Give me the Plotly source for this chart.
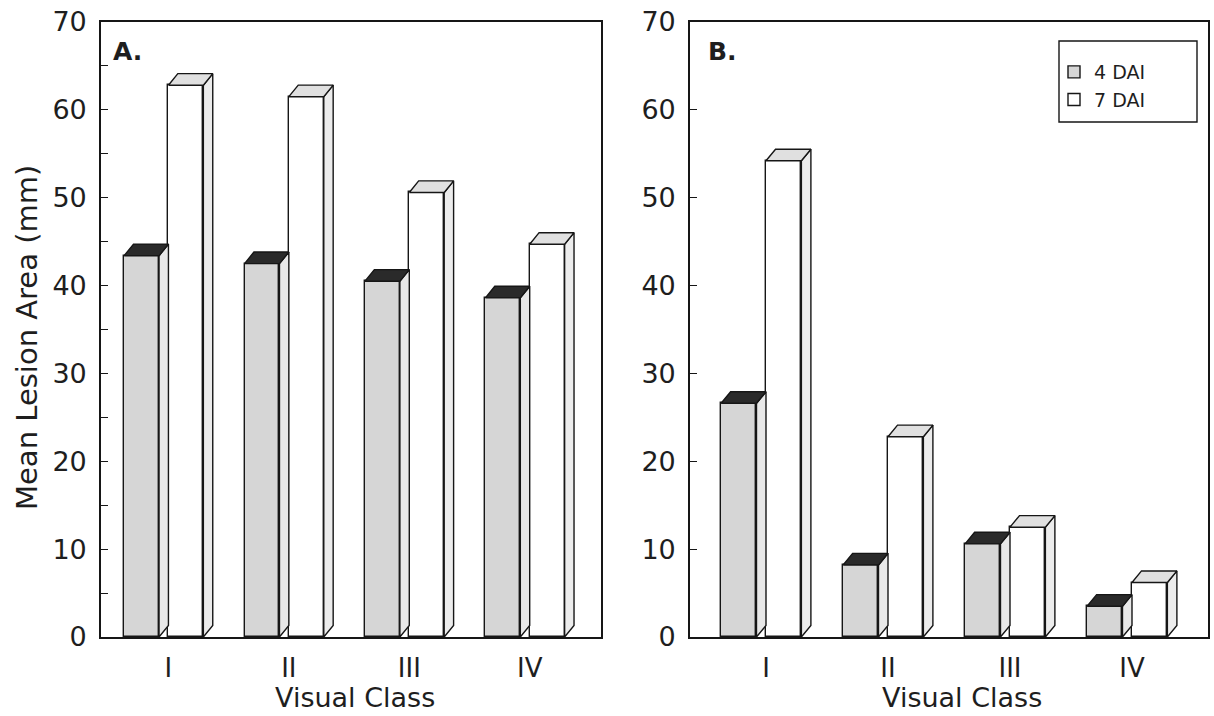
import plotly.graph_objects as go

# ---------------- data ----------------
categories = ["I", "II", "III", "IV"]
a_4dai = [43.4, 42.5, 40.5, 38.6]
a_7dai = [62.8, 61.5, 50.6, 44.7]
b_4dai = [26.6, 8.2, 10.6, 3.5]
b_7dai = [54.2, 22.8, 12.5, 6.2]
series_names = ["4 DAI", "7 DAI"]
y_ticks = [0, 10, 20, 30, 40, 50, 60, 70]

# ---------------- style ----------------
W = 0.29      # front-face width (category units)
DX = 0.078    # depth offset in x (category units)
DY = 1.32     # depth offset in y (data units)
EDGE = "#161616"
FRONT = ["#d6d6d6", "#ffffff"]
SIDE = ["#e8e8e8", "#ececec"]
TOP = ["#2a2a2a", "#e0e0e0"]
FONT = "DejaVu Sans, Liberation Sans, Arial, sans-serif"
TXT = "#1e1e1e"

fig = go.Figure()


def add_panel(v4, v7, xa, ya, showlegend):
    pos = list(range(len(categories)))
    for k, vals in enumerate([v4, v7]):
        # left edge of front face
        lefts = [c - DX - W if k == 0 else c for c in pos]
        fig.add_trace(go.Bar(
            x=[l + W / 2 for l in lefts], y=vals, width=W, base=0,
            name=series_names[k], legendgroup=series_names[k],
            showlegend=showlegend,
            marker=dict(color=FRONT[k], line=dict(color=EDGE, width=1.4)),
            xaxis=xa, yaxis=ya, hoverinfo="skip"))
        sx, sy, tx, ty = [], [], [], []
        for l, v in zip(lefts, vals):
            r = l + W
            sx += [r, r + DX, r + DX, r, r, None]
            sy += [0, DY, v + DY, v, 0, None]
            tx += [l, r, r + DX, l + DX, l, None]
            ty += [v, v, v + DY, v + DY, v, None]
        fig.add_trace(go.Scatter(
            x=sx, y=sy, mode="lines", fill="toself", fillcolor=SIDE[k],
            line=dict(color=EDGE, width=1.4), showlegend=False,
            hoverinfo="skip", xaxis=xa, yaxis=ya))
        fig.add_trace(go.Scatter(
            x=tx, y=ty, mode="lines", fill="toself", fillcolor=TOP[k],
            line=dict(color=EDGE, width=1.4), showlegend=False,
            hoverinfo="skip", xaxis=xa, yaxis=ya))


add_panel(a_4dai, a_7dai, "x", "y", True)
add_panel(b_4dai, b_7dai, "x2", "y2", False)

H, WPX = 716, 1214
ydom = [1 - 637 / H, 1 - 22 / H]

common_x = dict(tickvals=list(range(len(categories))), ticktext=categories,
                ticks="", showline=True, mirror=True, linecolor=EDGE, linewidth=1.6,
                showgrid=False, zeroline=False, automargin=False,
                tickfont=dict(family=FONT, size=26, color=TXT),
                ticklabelstandoff=7)
common_y = dict(range=[0, 70], tickvals=y_ticks, ticks="inside", ticklen=7,
                tickcolor=EDGE, tickwidth=1, showline=True, mirror=True,
                linecolor=EDGE, linewidth=1.6, showgrid=False, zeroline=False,
                automargin=False,
                tickfont=dict(family=FONT, size=27, color=TXT),
                ticklabelstandoff=7, domain=ydom)

fig.update_layout(
    width=WPX, height=H, autosize=False,
    margin=dict(l=0, r=0, t=0, b=0, autoexpand=False),
    paper_bgcolor="white", plot_bgcolor="white",
    barmode="overlay", bargap=0,
    xaxis=dict(domain=[101 / WPX, 601 / WPX], range=[-0.56, 3.592], anchor="y", **common_x),
    xaxis2=dict(domain=[690 / WPX, 1208 / WPX], range=[-0.623, 3.623], anchor="y2", **common_x),
    yaxis=dict(anchor="x", minor=dict(ticks="inside", ticklen=7, dtick=5, tickcolor=EDGE),
               **common_y),
    yaxis2=dict(anchor="x2", **common_y),
    showlegend=True,
    legend=dict(x=1054 / WPX, y=1 - 53 / H, xanchor="left", yanchor="top",
                bgcolor="rgba(0,0,0,0)", borderwidth=0, itemwidth=30,
                font=dict(family=FONT, size=19, color=TXT), tracegroupgap=0),
    shapes=[dict(type="rect", xref="paper", yref="paper",
                 x0=1059 / WPX, x1=1197 / WPX, y0=1 - 122 / H, y1=1 - 41 / H,
                 line=dict(color=EDGE, width=1.4), fillcolor="rgba(0,0,0,0)")],
    annotations=[
        dict(text="Mean Lesion Area (mm)", xref="paper", yref="paper",
             x=27 / WPX, y=1 - 338 / H, textangle=-90, showarrow=False,
             xanchor="center", yanchor="middle",
             font=dict(family=FONT, size=29, color=TXT)),
        dict(text="Visual Class", xref="paper", yref="paper",
             x=355 / WPX, y=1 - 697 / H, showarrow=False,
             xanchor="center", yanchor="middle",
             font=dict(family=FONT, size=27, color=TXT)),
        dict(text="Visual Class", xref="paper", yref="paper",
             x=962 / WPX, y=1 - 697 / H, showarrow=False,
             xanchor="center", yanchor="middle",
             font=dict(family=FONT, size=27, color=TXT)),
        dict(text="<b>A.</b>", xref="paper", yref="paper",
             x=111 / WPX, y=1 - 52 / H, showarrow=False,
             xanchor="left", yanchor="middle",
             font=dict(family=FONT, size=25, color=TXT)),
        dict(text="<b>B.</b>", xref="paper", yref="paper",
             x=706 / WPX, y=1 - 52 / H, showarrow=False,
             xanchor="left", yanchor="middle",
             font=dict(family=FONT, size=25, color=TXT)),
    ],
)

fig.write_html("out.html")
